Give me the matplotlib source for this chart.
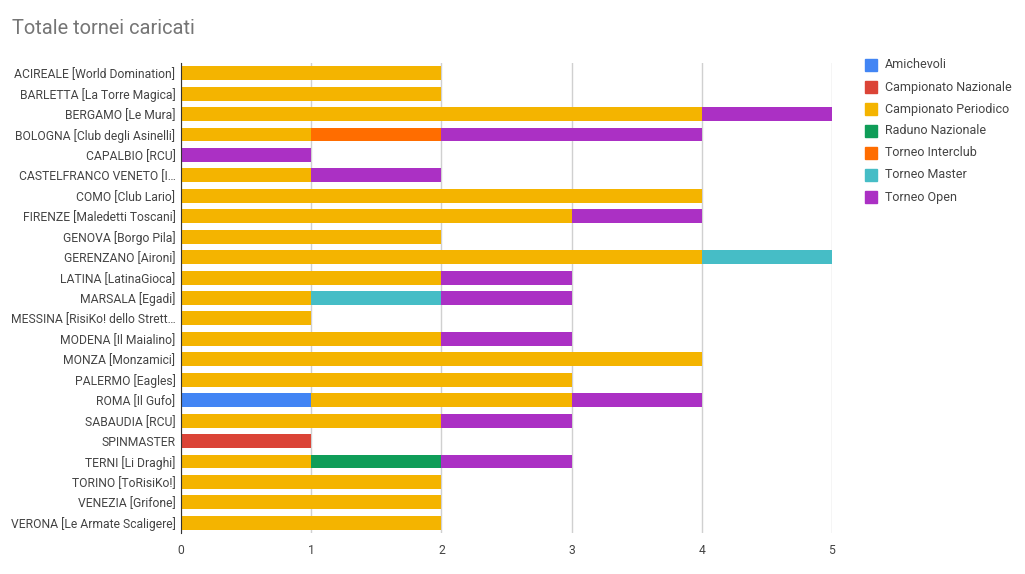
import numpy as np
import matplotlib.pyplot as plt
from matplotlib.patches import Rectangle

plt.rcParams['font.family'] = ['Roboto', 'DejaVu Sans']

clubs = [
    "ACIREALE [World Domination]", "BARLETTA [La Torre Magica]", "BERGAMO [Le Mura]",
    "BOLOGNA [Club degli Asinelli]", "CAPALBIO [RCU]", "CASTELFRANCO VENETO [I\u2026",
    "COMO [Club Lario]", "FIRENZE [Maledetti Toscani]", "GENOVA [Borgo Pila]",
    "GERENZANO [Aironi]", "LATINA [LatinaGioca]", "MARSALA [Egadi]",
    "MESSINA [RisiKo! dello Strett\u2026", "MODENA [Il Maialino]", "MONZA [Monzamici]",
    "PALERMO [Eagles]", "ROMA [Il Gufo]", "SABAUDIA [RCU]", "SPINMASTER",
    "TERNI [Li Draghi]", "TORINO [ToRisiKo!]", "VENEZIA [Grifone]",
    "VERONA [Le Armate Scaligere]",
]

series = ["Amichevoli", "Campionato Nazionale", "Campionato Periodico",
          "Raduno Nazionale", "Torneo Interclub", "Torneo Master", "Torneo Open"]
colors = ["#4285F4", "#DB4437", "#F4B400", "#0F9D58", "#FF6D00", "#46BDC6", "#AB30C4"]

amichevoli = [0, 0, 0, 0, 0, 0, 0, 0, 0, 0, 0, 0, 0, 0, 0, 0, 1, 0, 0, 0, 0, 0, 0]
camp_naz   = [0, 0, 0, 0, 0, 0, 0, 0, 0, 0, 0, 0, 0, 0, 0, 0, 0, 0, 1, 0, 0, 0, 0]
camp_per   = [2, 2, 4, 1, 0, 1, 4, 3, 2, 4, 2, 1, 1, 2, 4, 3, 2, 2, 0, 1, 2, 2, 2]
raduno     = [0, 0, 0, 0, 0, 0, 0, 0, 0, 0, 0, 0, 0, 0, 0, 0, 0, 0, 0, 1, 0, 0, 0]
interclub  = [0, 0, 0, 1, 0, 0, 0, 0, 0, 0, 0, 0, 0, 0, 0, 0, 0, 0, 0, 0, 0, 0, 0]
master     = [0, 0, 0, 0, 0, 0, 0, 0, 0, 1, 0, 1, 0, 0, 0, 0, 0, 0, 0, 0, 0, 0, 0]
open_      = [0, 0, 1, 2, 1, 1, 0, 1, 0, 0, 1, 1, 0, 1, 0, 0, 1, 1, 0, 1, 0, 0, 0]

values = [amichevoli, camp_naz, camp_per, raduno, interclub, master, open_]

fig = plt.figure(figsize=(10.25, 5.74), dpi=100)
ax = fig.add_axes([181 / 1025, 1 - 533 / 574, (832 - 181) / 1025, (533 - 63) / 574])

y = np.arange(len(clubs))
left = np.zeros(len(clubs))
for name, vals, col in zip(series, values, colors):
    vals = np.array(vals, dtype=float)
    ax.barh(y, vals, left=left, height=0.68, color=col, label=name, zorder=3)
    left += vals

ax.set_ylim(len(clubs) - 0.5, -0.5)
ax.set_xlim(0, 5)
ax.set_yticks(y)
ax.set_yticklabels(clubs, fontsize=8.75, color="#444444")
ax.set_xticks(range(6))
ax.tick_params(axis="x", labelsize=8.75, labelcolor="#444444", length=0, pad=8)
ax.tick_params(axis="y", length=0, pad=4)
ax.grid(axis="x", color="#d0d0d0", linewidth=1, zorder=0)
for s in ["top", "right", "bottom"]:
    ax.spines[s].set_visible(False)
ax.spines["left"].set_color("#333333")
ax.spines["left"].set_zorder(4)

fig.text(12 / 1025, 1 - 29 / 574, "Totale tornei caricati", fontsize=14.4,
         color="#757575", va="center", ha="left")

# legend drawn by hand to match spacing
for i, (name, col) in enumerate(zip(series, colors)):
    yc = 65 + i * 22
    fig.add_artist(Rectangle((865 / 1025, 1 - (yc + 6) / 574), 12 / 1025, 12 / 574,
                             transform=fig.transFigure, color=col))
    fig.text(885 / 1025, 1 - yc / 574, name, fontsize=9, color="#444444",
             va="center", ha="left")

fig.savefig("out.png", dpi=100)
